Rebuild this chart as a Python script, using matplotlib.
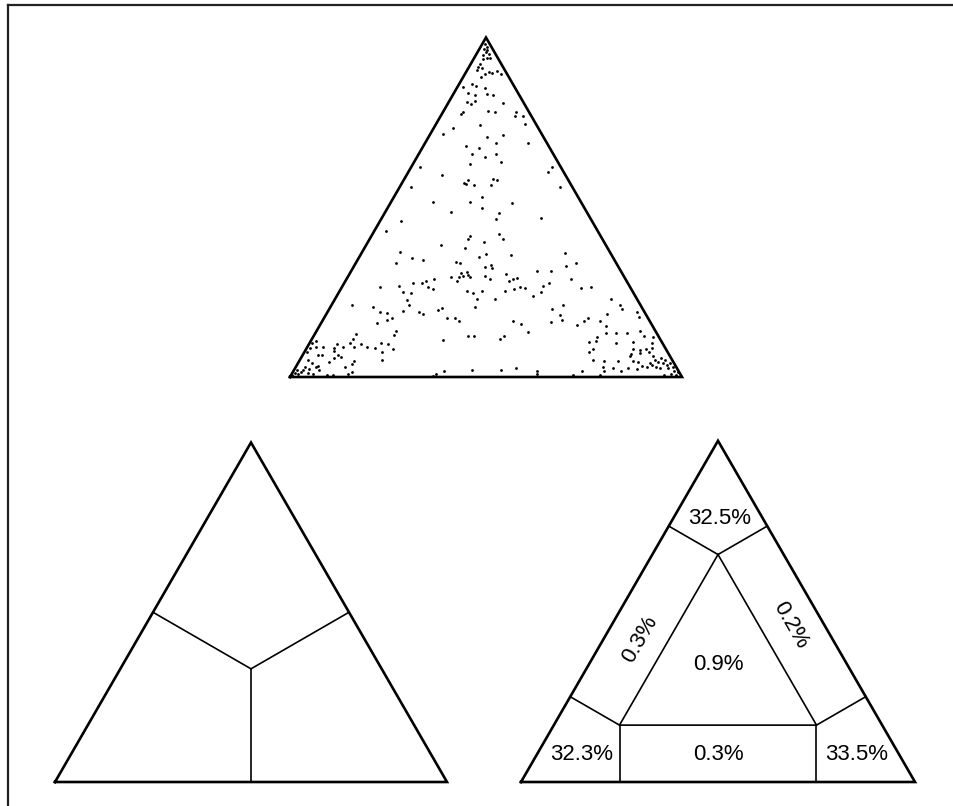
import numpy as np
import matplotlib
matplotlib.use("Agg")
import matplotlib.pyplot as plt
from matplotlib.lines import Line2D

plt.rcParams['font.family'] = ['Liberation Sans', 'DejaVu Sans']

# dots of the top triangle (pixel positions)
dot_x = [485, 487, 484, 487, 486, 489, 483, 487, 490, 483, 480, 478, 482, 477, 489, 492, 497, 501, 481, 485,
         463, 472, 476, 485, 468, 475, 487, 493, 467, 471, 475, 503, 463, 461, 488, 495, 516, 515, 523, 480,
         453, 525,
         443, 466, 479, 487, 472, 485, 470, 420, 442, 468, 464, 466, 474, 411, 482, 433, 470, 482, 451, 401,
         386, 470, 468, 484, 441, 465,
         503, 496, 528, 496, 501, 552, 548, 493, 497, 491, 560, 512, 499, 496, 541, 499, 503,
         400, 412, 396, 380, 399, 413, 403, 411, 407, 409, 403, 419, 352, 373, 380, 387, 392, 387, 377, 396,
         394, 356, 353, 350, 316, 312, 381, 388, 361, 367, 375, 354, 343, 337, 334, 382, 393, 382, 323, 316,
         310, 307, 322, 318, 329, 334, 338, 341, 334, 308, 312, 318, 319, 354, 352, 345, 352, 348, 305, 303,
         309, 301, 298, 297, 295, 308, 313, 327, 333, 292, 316,
         423, 479, 486, 511, 456, 460, 485, 491, 492, 537, 551, 461, 467, 463, 459, 468, 470, 451, 457, 485,
         490, 506, 517, 513, 509, 434, 426, 422, 428, 433, 467, 473, 482, 505, 514, 520, 525, 543, 541, 549,
         533, 477, 495, 475, 442, 438, 423, 447, 455, 459, 513, 521, 552, 551, 528, 443, 468, 474, 504, 500,
         516, 444, 472, 501, 537, 537, 436, 433,
         565, 566, 576, 571, 581, 591, 611, 620, 622, 563, 560, 562, 607, 637, 639, 588, 584, 600, 577, 606,
         640, 644, 653, 606, 616, 627, 597, 596, 589, 616, 633, 652, 652, 593, 589, 633, 640, 646, 649, 631,
         630, 640, 653, 593, 604, 618, 633, 638, 650, 655, 661, 665, 658, 663, 670, 652, 656, 660, 668, 673,
         674, 647, 642, 603, 604, 613, 621, 628, 637, 582, 664, 671, 676, 600, 573, 678, 667]
dot_y = [44, 47, 49, 50, 52, 54, 55, 58, 58, 59, 64, 67, 68, 70, 72, 73, 71, 74, 77, 74,
         87, 84, 86, 88, 93, 95, 94, 95, 102, 104, 101, 103, 112, 114, 111, 112, 112, 116, 116, 125,
         128, 124,
         134, 146, 148, 137, 154, 157, 164, 167, 175, 180, 183, 184, 185, 187, 197, 202, 202, 208, 212, 221,
         231, 236, 239, 242, 245, 248,
         135, 143, 143, 154, 162, 167, 172, 179, 180, 185, 187, 203, 213, 219, 218, 234, 239,
         252, 258, 263, 287, 286, 283, 292, 293, 300, 305, 311, 312, 305, 307, 312, 313, 318, 320, 323, 331,
         335, 334, 339, 343, 341, 343, 343, 344, 344, 347, 348, 347, 347, 344, 348, 352, 349, 360, 347, 347,
         348, 352, 355, 355, 362, 358, 355, 357, 351, 360, 363, 366, 370, 361, 364, 367, 372, 374, 367, 370,
         369, 372, 374, 370, 373, 373, 374, 375, 375, 375, 367,
         260, 257, 254, 255, 262, 263, 267, 265, 268, 271, 271, 273, 272, 276, 277, 275, 277, 277, 281, 276,
         279, 274, 278, 279, 281, 279, 281, 283, 287, 289, 291, 293, 291, 291, 289, 287, 288, 286, 292, 283,
         296, 299, 299, 307, 308, 310, 314, 318, 318, 321, 321, 324, 309, 322, 332, 340, 336, 336, 336, 339,
         368, 371, 370, 370, 371, 374, 374, 376,
         253, 266, 263, 279, 288, 287, 299, 305, 309, 305, 315, 320, 314, 312, 317, 318, 321, 321, 325, 326,
         331, 336, 337, 333, 333, 333, 337, 341, 342, 343, 342, 343, 348, 349, 352, 349, 350, 349, 352, 354,
         356, 353, 356, 360, 361, 361, 361, 362, 363, 360, 358, 360, 362, 363, 363, 365, 367, 368, 368, 367,
         371, 367, 366, 367, 371, 368, 371, 368, 369, 371, 375, 374, 375, 375, 375, 372, 365]

# share of points falling in each region of the partitioned triangle
region_labels = ["32.5%", "0.3%", "0.2%", "0.9%", "32.3%", "0.3%", "33.5%"]

W, H = 954, 806
H3 = np.sqrt(3) / 2


def tern(a, l, r):
    # ternary (apex, left, right) -> cartesian in unit triangle
    return 0.5 * a + r, H3 * a


def tri_axes(fig, left_px, base_px, side_px):
    ax = fig.add_axes([left_px / W, (H - base_px) / H, side_px / W, side_px * H3 / H])
    ax.set_xlim(0, 1)
    ax.set_ylim(0, H3)
    ax.axis("off")
    ax.plot([0, 1, 0.5, 0], [0, 0, H3, 0], color="black", lw=1.9,
            solid_joinstyle="miter", clip_on=False)
    return ax


def seg(ax, p, q, lw=1.2):
    ax.plot([p[0], q[0]], [p[1], q[1]], color="black", lw=lw, clip_on=False)


fig = plt.figure(figsize=(W / 100, H / 100), dpi=100)

# frame (top and left only)
fig.add_artist(Line2D([8 / W, 1], [1 - 5 / H, 1 - 5 / H], color="#222222", lw=1.6))
fig.add_artist(Line2D([8 / W, 8 / W], [0, 1 - 5 / H], color="#222222", lw=1.6))

# top: scatter of points
ax1 = tri_axes(fig, 290, 377, 392)
u = (np.array(dot_x) - 290) / 392
v = (377 - np.array(dot_y)) / 392
ax1.scatter(u, v, s=4, color="black", linewidths=0, clip_on=False)

# bottom left: three regions split at the centroid
ax2 = tri_axes(fig, 55, 782, 392)
c = tern(1 / 3, 1 / 3, 1 / 3)
for p in [tern(0.5, 0.5, 0), tern(0.5, 0, 0.5), tern(0, 0.5, 0.5)]:
    seg(ax2, c, p)

# bottom right: corner, edge and centre regions
ax3 = tri_axes(fig, 521, 782, 394)
ia, il, ir = tern(2 / 3, 1 / 6, 1 / 6), tern(1 / 6, 2 / 3, 1 / 6), tern(1 / 6, 1 / 6, 2 / 3)
ax3.plot([ia[0], il[0], ir[0], ia[0]], [ia[1], il[1], ir[1], ia[1]], color="black", lw=1.2)
seg(ax3, ia, tern(0.75, 0.25, 0))
seg(ax3, ia, tern(0.75, 0, 0.25))
seg(ax3, il, tern(0.25, 0.75, 0))
seg(ax3, il, tern(0, 0.75, 0.25))
seg(ax3, ir, tern(0.25, 0, 0.75))
seg(ax3, ir, tern(0, 0.25, 0.75))

label_pos = [(0.505, 0.670), (0.302, 0.363), (0.683, 0.398), (0.5, 0.297),
             (0.155, 0.069), (0.5, 0.069), (0.853, 0.069)]
label_rot = [0, 60, -60, 0, 0, 0, 0]
for txt, (x, y), rot in zip(region_labels, label_pos, label_rot):
    ax3.text(x, y, txt, ha="center", va="center", rotation=rot,
             rotation_mode="anchor", fontsize=16)

fig.savefig("out.png", dpi=100)
